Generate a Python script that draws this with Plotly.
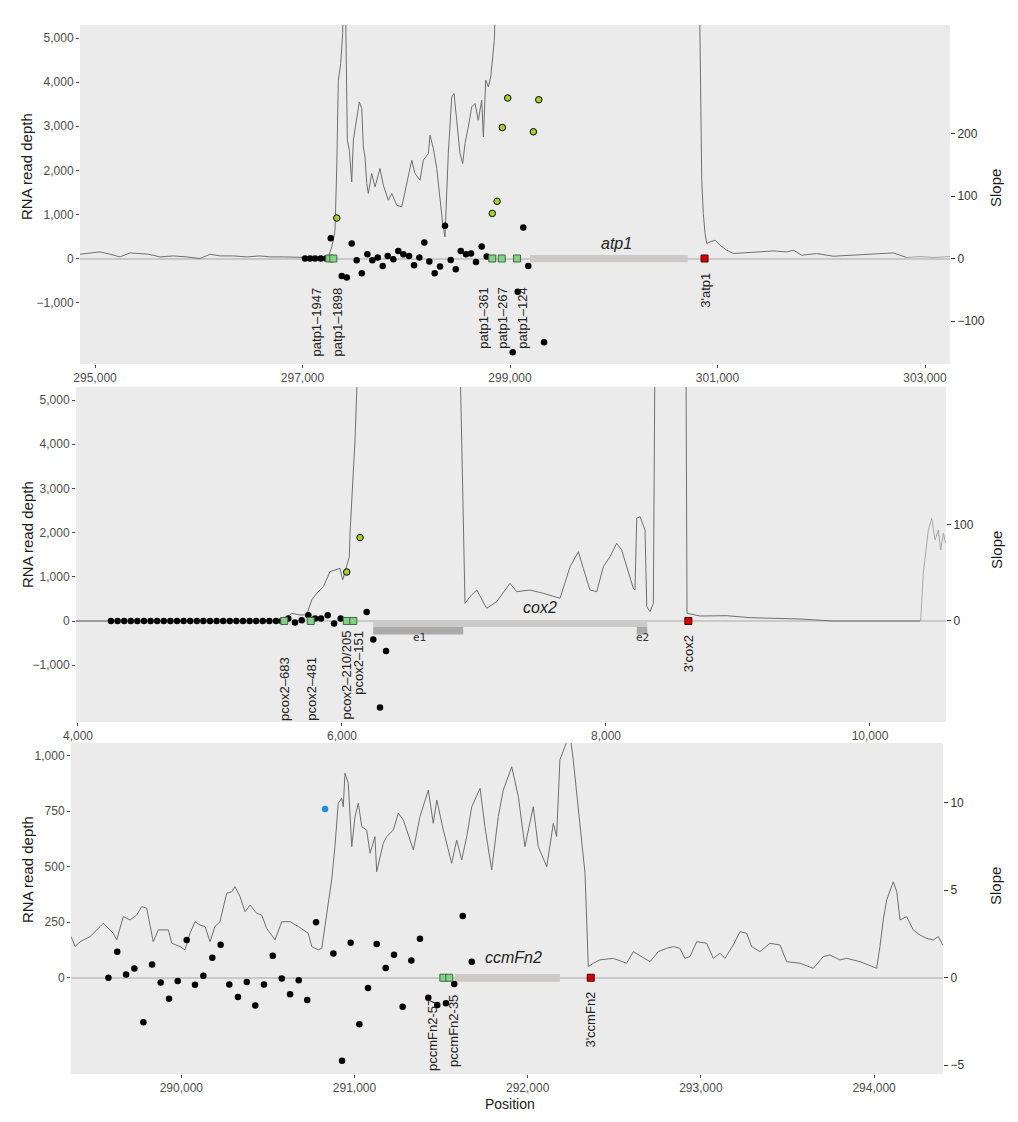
import plotly.graph_objects as go

# the page body has an 8px margin, so the figure is laid out in page pixels minus that offset
OFF = 8
W, H = 1018 - OFF, 1122 - OFF
FONT = "Liberation Sans, Arial, Helvetica, sans-serif"
LINE_C = "#6f6f6f"
LIGHT_C = "#a8a8a8"
BG = "#ebebeb"

# ---------------- Panel 1 : atp1 ----------------
p1_depth_x = [294855, 295048, 295145, 295241, 295337, 295434, 295514, 295627, 295755, 295884,
              296012, 296108, 296205, 296333, 296462, 296590, 296687, 296815, 296944, 297072,
              297169, 297249, 297281, 297297, 297313, 297330, 297345, 297368, 297387, 297393,
              297413, 297419, 297432, 297451, 297474, 297490, 297522, 297547, 297571, 297586,
              297602, 297619, 297634, 297667, 297699, 297747, 297779, 297827, 297860, 297908,
              297956, 298004, 298053, 298084, 298133, 298164, 298213, 298229, 298261, 298294,
              298325, 298351, 298373, 298405, 298438, 298460, 298486, 298518, 298544, 298566,
              298598, 298631, 298663, 298694, 298727, 298743, 298766, 298791, 298814, 298833,
              298849, 298862, 300826, 300848, 300863, 300880, 300896, 300928, 300976, 301024,
              301089, 301152, 301281, 301410, 301538, 301667, 301731, 301812, 301956, 302116,
              302309, 302502, 302694, 302824]
p1_depth_y = [97, 150, 97, 36, 127, 113, 97, 36, 59, 36,
              0, 97, 59, 59, 36, 59, 36, 36, 23, 23,
              52, 36, 263, 415, 642, 2077, 4043, 4422, 5102, 6000,
              6000, 4571, 2683, 2456, 1737, 2683, 3211, 3551, 3401, 2531,
              2304, 1701, 1474, 1927, 1624, 2041, 1662, 1322, 1474, 1209,
              1170, 1701, 2229, 1927, 1776, 2229, 2381, 2796, 2494, 2041,
              1322, 794, 490, 2381, 3664, 3741, 3136, 2381, 2154, 2608,
              2984, 3438, 3515, 3136, 3590, 2757, 4043, 3891, 4118, 4649,
              4950, 6000, 6000, 1776, 1020, 567, 340, 376, 415, 302,
              188, 113, 127, 150, 172, 150, 188, 75, 113, 52,
              75, 97, 127, 23]
p1_tail_x = [302824, 302952, 303077, 303241]
p1_tail_y = [23, 45, 23, 45]

p1_slope_x = [297024, 297072, 297120, 297175, 297227, 297272, 297378, 297426, 297474, 297522,
              297571, 297625, 297673, 297725, 297773, 297821, 297875, 297923, 297972, 298027,
              298075, 298126, 298174, 298222, 298274, 298325, 298373, 298428, 298477, 298525,
              298576, 298624, 298672, 298727, 298775, 299026, 299074, 299128, 299176, 299328]
p1_slope_y = [0, 0, 0, 0, 0, 32.6, -27.9, -30.5, 24, -2.7,
              -23.6, 6.9, -2.7, 1.6, -11.9, 4.2, -1.1, 12.2, 6.9, 4.2,
              -10.8, 1.6, 25.7, -4.8, -23.6, -12.8, 52.3, -2.2, -17.2, 12.2,
              6.9, 8, -5.5, 19.3, 3.2, -150, -53, 49.8, -11.9, -133.8]
p1_high_x = [297330, 298829, 298875, 298926, 298978, 299225, 299277]
p1_high_y = [64.7, 72.2, 91.5, 209.6, 256.8, 202.7, 254]
p1_prom_x = [297258, 297297, 298829, 298920, 299067]
p1_term_x = [300875]
p1_label_x = [297137, 297339, 298749, 298932, 299125, 300889]
p1_label_text = ["patp1\u20131947", "patp1\u20131898", "patp1\u2013361", "patp1\u2013267",
                 "patp1\u2013124", "3'atp1"]
p1_label_top = [-605, -605, -605, -605, -605, -265]
p1_gene = dict(name="atp1", start=299193, end=300713, name_x=300031, name_y=347)

# ---------------- Panel 2 : cox2 ----------------
p2_depth_x = [3985, 5553, 5619, 5682, 5733, 5771, 5809, 5859, 5909, 5947,
              5985, 6005, 6036, 6056, 6061, 6074, 6099, 6121, 6894, 6932,
              6970, 7021, 7096, 7172, 7273, 7324, 7424, 7525, 7652, 7728,
              7791, 7828, 7879, 7930, 7980, 8031, 8081, 8119, 8157, 8207,
              8220, 8233, 8258, 8296, 8309, 8334, 8359, 8371, 8606, 8614,
              8712, 8915, 9091, 9470, 9720, 10379]
p2_depth_y = [0, 0, 175, 136, 140, 475, 627, 777, 1116, 1154,
              1192, 927, 1229, 1455, 1991, 2733, 4095, 6000, 6000, 400,
              550, 701, 287, 437, 853, 663, 701, 627, 514, 1229,
              1568, 1192, 701, 663, 1229, 1455, 1758, 1606, 1229, 740,
              701, 2324, 2360, 2059, 324, 211, 400, 6000, 6000, 175,
              113, 120, 75, 45, 0, 0]
p2_next_x = [10384, 10404, 10442, 10468, 10493, 10518, 10536, 10556, 10574]
p2_next_y = [0, 1079, 2059, 2324, 1833, 2059, 1606, 1984, 1758]

p2_slope_x = [4250, 4300, 4350, 4400, 4450, 4500, 4550, 4600, 4650, 4700,
              4750, 4800, 4850, 4900, 4950, 5000, 5050, 5100, 5150, 5200,
              5250, 5300, 5350, 5400, 5450, 5500, 5543, 5593, 5644, 5695,
              5745, 5796, 5841, 5892, 5940, 5990, 6187, 6237, 6288, 6334]
p2_slope_y = [0, 0, 0, 0, 0, 0, 0, 0, 0, 0,
              0, 0, 0, 0, 0, 0, 0, 0, 0, 0,
              0, 0, 0, 0, 0, 0, 0, 2.5, -1.7, 0.7,
              5.9, 2.5, 2.5, 5.9, -2.7, 2.5, 9.4, -19.3, -89.8, -31.1]
p2_high_x = [6036, 6137]
p2_high_y = [50.8, 86.5]
p2_prom_x = [5563, 5763, 6036, 6086]
p2_term_x = [8624]
p2_label_x = [5568, 5771, 6036, 6124, 8624]
p2_label_text = ["pcox2\u2013683", "pcox2\u2013481", "pcox2\u2013210/205", "pcox2\u2013151", "3'cox2"]
p2_label_top = [-769, -769, -165, -165, -278]
p2_gene = dict(name="cox2", start=6237, end=8313, name_x=7500, name_y=310)
p2_exon_start = [6237, 8233]
p2_exon_end = [6919, 8313]
p2_exon_names = ["e1", "e2"]
p2_exon_label_x = [6591, 8278]

# ---------------- Panel 3 : ccmFn2 ----------------
p3_depth_x = [289363, 289387, 289415, 289473, 289531, 289550, 289607, 289627, 289665, 289704,
              289742, 289771, 289800, 289838, 289867, 289925, 289945, 289992, 290021, 290050,
              290079, 290108, 290137, 290166, 290194, 290223, 290262, 290291, 290310, 290339,
              290368, 290397, 290435, 290464, 290493, 290541, 290580, 290628, 290676, 290704,
              290733, 290753, 290791, 290811, 290849, 290868, 290887, 290906, 290926, 290935,
              290945, 290964, 290984, 291003, 291022, 291042, 291070, 291090, 291118, 291128,
              291166, 291186, 291224, 291253, 291282, 291340, 291378, 291426, 291455, 291475,
              291513, 291561, 291590, 291619, 291648, 291677, 291725, 291753, 291792, 291830,
              291859, 291908, 291946, 291984, 292032, 292061, 292110, 292148, 292167, 292186,
              292215, 292244, 292263, 292302, 292331, 292350, 292379, 292417, 292494, 292571,
              292610, 292706, 292754, 292802, 292841, 292879, 292908, 292937, 292976, 293033,
              293072, 293110, 293139, 293187, 293226, 293264, 293293, 293341, 293399, 293457,
              293495, 293572, 293649, 293707, 293745, 293803, 293842, 293919, 294015, 294034,
              294053, 294073, 294092, 294111, 294131, 294150, 294188, 294226, 294265, 294304,
              294342, 294371, 294396]
p3_depth_y = [185, 140, 162, 185, 230, 245, 200, 170, 275, 260,
              282, 320, 313, 162, 215, 215, 155, 140, 125, 200,
              252, 237, 230, 162, 230, 252, 380, 387, 410, 365,
              297, 327, 290, 282, 222, 170, 252, 252, 230, 215,
              200, 140, 125, 132, 335, 440, 590, 786, 808, 770,
              921, 876, 590, 725, 786, 680, 665, 560, 635, 477,
              605, 635, 665, 741, 710, 575, 725, 845, 695, 800,
              665, 515, 620, 530, 635, 770, 853, 680, 485, 725,
              845, 950, 815, 590, 770, 590, 500, 695, 635, 981,
              1041, 1100, 981, 695, 470, 50, 65, 80, 87, 65,
              117, 72, 117, 132, 140, 132, 87, 95, 162, 155,
              87, 110, 87, 147, 207, 200, 140, 117, 155, 147,
              72, 65, 42, 95, 102, 80, 87, 72, 42, 140,
              260, 350, 387, 432, 387, 260, 275, 215, 192, 177,
              170, 185, 147]

p3_slope_x = [289579, 289630, 289681, 289729, 289781, 289831, 289881, 289929, 289979, 290031,
              290079, 290127, 290179, 290227, 290277, 290327, 290378, 290427, 290477, 290528,
              290580, 290628, 290678, 290727, 290778, 290878, 290928, 290978, 291028, 291078,
              291128, 291180, 291228, 291278, 291328, 291378, 291426, 291478, 291528, 291576,
              291625, 291677]
p3_slope_y = [0, 1.49, 0.19, 0.53, -2.55, 0.76, -0.27, -1.2, -0.19, 2.15,
              -0.4, 0.11, 1.14, 1.89, -0.38, -1.1, -0.25, -1.58, -0.38, 1.26,
              -0.04, -0.95, -0.15, -1.27, 3.17, 1.39, -4.74, 2.0, -2.66, -0.59,
              1.93, 0.55, 1.31, -1.66, 0.99, 2.23, -1.14, -1.56, -1.46, -0.36,
              3.53, 0.91]
p3_blue_x = [290830]
p3_blue_y = [9.64]
p3_prom_x = [291513, 291547]
p3_term_x = [292364]
p3_label_x = [291449, 291567, 292364]
p3_label_text = ["pccmFn2-57", "pccmFn2-35", "3'ccmFn2"]
p3_label_top = [-86, -70, -55]
p3_gene = dict(name="ccmFn2", start=291580, end=292186, name_x=291917, name_y=92)

# ---------------- layout helpers (page pixels -> paper fractions) ----------------
def fx(px):
    return (px - OFF) / W

def fy(py):
    return 1 - (py - OFF) / H

panels = [
    dict(xa="x", ya="y", ya2="y2", xdom=(80, 950), ydom=(25, 364),
         xrange=[294855, 303241], xticks=[295000, 297000, 299000, 301000, 303000],
         yrange=[-2392, 5295], yticks=[-1000, 0, 1000, 2000, 3000, 4000, 5000],
         y2range=[-168.8, 373.6], y2ticks=[-100, 0, 100, 200],
         bar=(-86, 79), title_y=167, slope_y=188),
    dict(xa="x2", ya="y3", ya2="y4", xdom=(76, 946), ydom=(387, 722),
         xrange=[3985, 10576], xticks=[4000, 6000, 8000, 10000],
         yrange=[-2285, 5294], yticks=[-1000, 0, 1000, 2000, 3000, 4000, 5000],
         y2range=[-104.8, 242.7], y2ticks=[0, 100],
         bar=(-136, 0), title_y=535, slope_y=550),
    dict(xa="x3", ya="y5", ya2="y6", xdom=(71, 943), ydom=(743, 1074),
         xrange=[289363, 294398], xticks=[290000, 291000, 292000, 293000, 294000],
         yrange=[-434, 1057], yticks=[0, 250, 500, 750, 1000],
         y2range=[-5.5, 13.41], y2ticks=[-5, 0, 5, 10],
         bar=(-18, 17), title_y=870, slope_y=886),
]

fig = go.Figure()

data = [
    dict(dx=p1_depth_x, dy=p1_depth_y, tx=p1_tail_x, ty=p1_tail_y,
         sx=p1_slope_x, sy=p1_slope_y, hx=p1_high_x, hy=p1_high_y,
         prom=p1_prom_x, term=p1_term_x, lx=p1_label_x, lt=p1_label_text, ltop=p1_label_top,
         gene=p1_gene),
    dict(dx=p2_depth_x, dy=p2_depth_y, tx=p2_next_x, ty=p2_next_y,
         sx=p2_slope_x, sy=p2_slope_y, hx=p2_high_x, hy=p2_high_y,
         prom=p2_prom_x, term=p2_term_x, lx=p2_label_x, lt=p2_label_text, ltop=p2_label_top,
         gene=p2_gene),
    dict(dx=p3_depth_x, dy=p3_depth_y, tx=[], ty=[],
         sx=p3_slope_x, sy=p3_slope_y, hx=p3_blue_x, hy=p3_blue_y,
         prom=p3_prom_x, term=p3_term_x, lx=p3_label_x, lt=p3_label_text, ltop=p3_label_top,
         gene=p3_gene),
]

annotations = []
shapes = []

for i, (p, d) in enumerate(zip(panels, data)):
    fig.add_trace(go.Scatter(x=d["dx"], y=d["dy"], mode="lines",
                             line=dict(color=LINE_C, width=1), xaxis=p["xa"], yaxis=p["ya"],
                             showlegend=False, hoverinfo="skip"))
    if d["tx"]:
        fig.add_trace(go.Scatter(x=d["tx"], y=d["ty"], mode="lines",
                                 line=dict(color=LIGHT_C, width=1), xaxis=p["xa"], yaxis=p["ya"],
                                 showlegend=False, hoverinfo="skip"))
    fig.add_trace(go.Scatter(x=d["sx"], y=d["sy"], mode="markers",
                             marker=dict(color="black", size=6.5),
                             xaxis=p["xa"], yaxis=p["ya2"], showlegend=False, hoverinfo="skip"))
    if i < 2:
        fig.add_trace(go.Scatter(x=d["hx"], y=d["hy"], mode="markers",
                                 marker=dict(color="#a5d22a", size=6.5,
                                             line=dict(color="black", width=1)),
                                 xaxis=p["xa"], yaxis=p["ya2"], showlegend=False, hoverinfo="skip"))
    else:
        fig.add_trace(go.Scatter(x=d["hx"], y=d["hy"], mode="markers",
                                 marker=dict(color="#1f8fd8", size=6.5),
                                 xaxis=p["xa"], yaxis=p["ya2"], showlegend=False, hoverinfo="skip"))
    fig.add_trace(go.Scatter(x=d["prom"], y=[0] * len(d["prom"]), mode="markers",
                             marker=dict(symbol="square", color="#86cf86", size=7,
                                         line=dict(color="#3d6b3d", width=1)),
                             xaxis=p["xa"], yaxis=p["ya2"], showlegend=False, hoverinfo="skip"))
    fig.add_trace(go.Scatter(x=d["term"], y=[0] * len(d["term"]), mode="markers",
                             marker=dict(symbol="square", color="#d40000", size=7,
                                         line=dict(color="#5a0000", width=1)),
                             xaxis=p["xa"], yaxis=p["ya2"], showlegend=False, hoverinfo="skip"))

    g = d["gene"]
    shapes.append(dict(type="rect", xref=p["xa"], yref=p["ya"], x0=g["start"], x1=g["end"],
                       y0=p["bar"][0], y1=p["bar"][1], fillcolor="#cdc9c9",
                       line=dict(width=0), layer="between"))
    annotations.append(dict(x=g["name_x"], y=g["name_y"], xref=p["xa"], yref=p["ya"],
                            text="<i>%s</i>" % g["name"], showarrow=False,
                            font=dict(family=FONT, size=16, color="#222"),
                            xanchor="center", yanchor="middle"))
    for lx, lt, ltop in zip(d["lx"], d["lt"], d["ltop"]):
        annotations.append(dict(x=lx, y=ltop, xref=p["xa"], yref=p["ya"], text=lt,
                                showarrow=False, textangle=-90,
                                font=dict(family=FONT, size=13, color="#222"),
                                xanchor="center", yanchor="top"))

    xn = "xaxis" if i == 0 else "xaxis%d" % (i + 1)
    yn = "yaxis" if p["ya"] == "y" else "yaxis" + p["ya"][1:]
    y2n = "yaxis" + p["ya2"][1:]
    tickfont = dict(family=FONT, size=12, color="#4d4d4d")
    fig.layout[xn] = dict(domain=[fx(p["xdom"][0]), fx(p["xdom"][1])], range=p["xrange"],
                          anchor=p["ya"], tickvals=p["xticks"], tickformat=",d",
                          ticks="outside", ticklen=3, tickcolor="#4d4d4d",
                          showgrid=False, zeroline=False, showline=False,
                          tickfont=tickfont, automargin=False)
    fig.layout[yn] = dict(domain=[fy(p["ydom"][1]), fy(p["ydom"][0])], range=p["yrange"],
                          anchor=p["xa"], tickvals=p["yticks"], tickformat=",d",
                          ticks="outside", ticklen=3, tickcolor="#4d4d4d",
                          showgrid=False, zeroline=True, zerolinecolor="#c9c9c9",
                          zerolinewidth=2, showline=False, tickfont=tickfont,
                          automargin=False)
    fig.layout[y2n] = dict(overlaying=p["ya"], side="right", anchor=p["xa"],
                           range=p["y2range"], tickvals=p["y2ticks"],
                           ticks="outside", ticklen=4, tickcolor="#333",
                           showgrid=False, zeroline=False, showline=False,
                           tickfont=dict(family=FONT, size=12, color="#333"),
                           automargin=False)

    annotations.append(dict(x=fx(27), y=fy(p["title_y"]), xref="paper", yref="paper",
                            text="RNA read depth", showarrow=False, textangle=-90,
                            font=dict(family=FONT, size=15, color="#1a1a1a"),
                            xanchor="center", yanchor="middle"))
    annotations.append(dict(x=fx(996), y=fy(p["slope_y"]), xref="paper", yref="paper",
                            text="Slope", showarrow=False, textangle=-90,
                            font=dict(family=FONT, size=15, color="#1a1a1a"),
                            xanchor="center", yanchor="middle"))

p = panels[1]
for s, e, n, lx in zip(p2_exon_start, p2_exon_end, p2_exon_names, p2_exon_label_x):
    shapes.append(dict(type="rect", xref=p["xa"], yref=p["ya"], x0=s, x1=e,
                       y0=-308, y1=-136, fillcolor="#aaaaaa", line=dict(width=0),
                       layer="between"))
    annotations.append(dict(x=lx, y=-369, xref=p["xa"], yref=p["ya"], text=n,
                            showarrow=False, font=dict(family="DejaVu Sans Mono, monospace",
                                                       size=11, color="#333"),
                            xanchor="center", yanchor="middle"))

annotations.append(dict(x=fx(510), y=fy(1104), xref="paper", yref="paper", text="Position",
                        showarrow=False, font=dict(family=FONT, size=14, color="#1a1a1a"),
                        xanchor="center", yanchor="middle"))

fig.update_layout(width=W, height=H, margin=dict(l=0, r=0, t=0, b=0, autoexpand=False),
                  paper_bgcolor="white", plot_bgcolor=BG, showlegend=False,
                  annotations=annotations, shapes=shapes,
                  font=dict(family=FONT))

fig.write_html("out.html", config={"displayModeBar": False})
